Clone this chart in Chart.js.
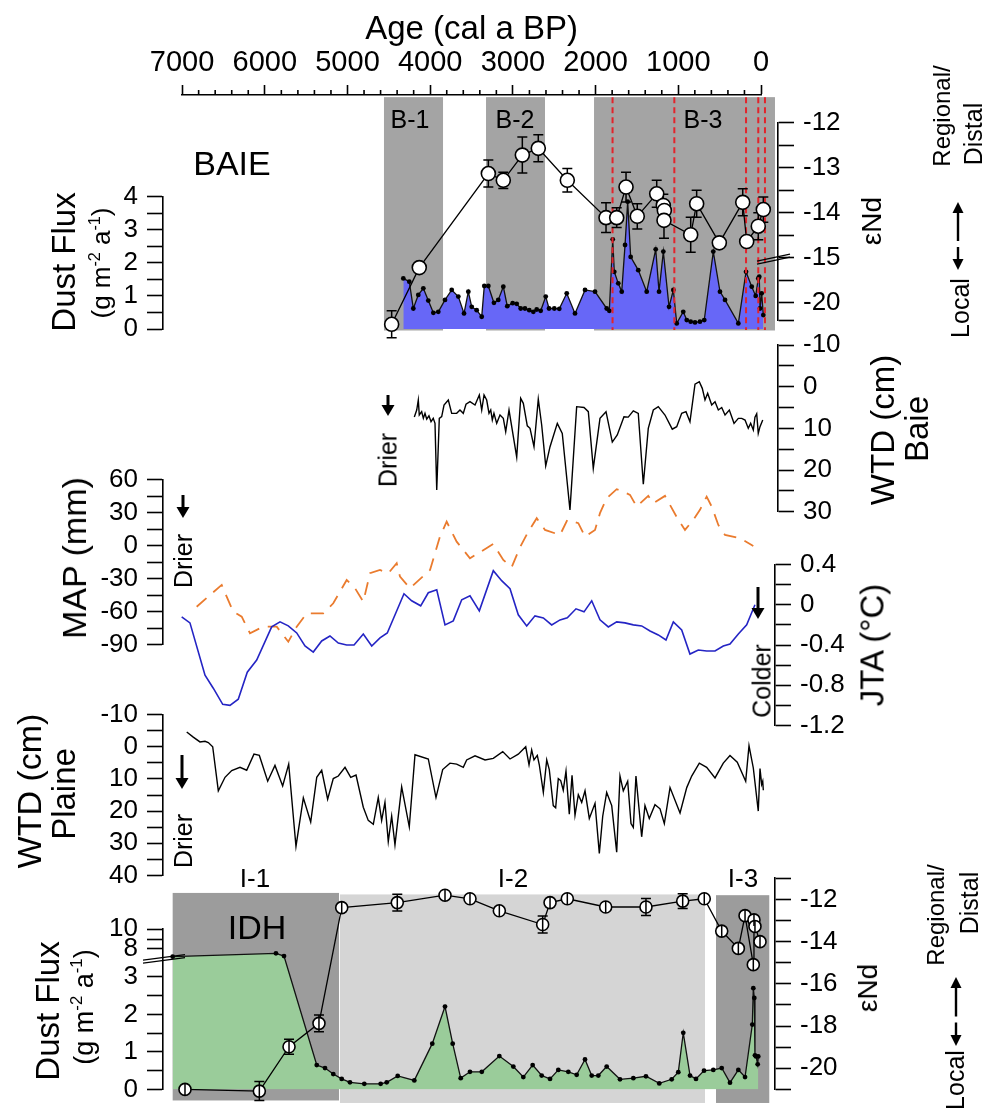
<!DOCTYPE html>
<html>
<head>
<meta charset="utf-8">
<title>BAIE / IDH dust, WTD and climate records</title>
<script src="https://cdn.jsdelivr.net/npm/chart.js@4.4.1/dist/chart.umd.min.js"></script>
<style>
  html, body { margin: 0; padding: 0; background: #fff; }
  #page { position: relative; width: 989px; height: 1114px; overflow: hidden; font-family: "Liberation Sans", Arial, Helvetica, sans-serif; color: #000; }
  #page canvas { position: absolute; left: 0; }
  #marks { position: absolute; left: 0; top: 0; }
  .lbl { position: absolute; white-space: nowrap; line-height: 1; transform: translate(-50%, -50%); }
  .lbl.rot { transform: translate(-50%, -50%) rotate(-90deg); }
  .lbl sup { font-size: 0.62em; vertical-align: 0.6em; line-height: 0; }
</style>
</head>
<body>
<div id="page"></div>
<script>
// ages are cal a BP everywhere

// --- BAIE dust flux (g m-2 a-1)
const baieDustAge = [4325, 4253, 4204, 4144, 4083, 4023, 3962, 3902, 3821, 3740, 3660, 3591, 3539, 3498, 3438, 3377, 3346, 3297, 3229, 3177, 3116, 3068, 3003, 2954, 2906, 2854, 2802, 2753, 2712, 2664, 2603, 2563, 2499, 2439, 2349, 2249, 2128, 2007, 1866, 1834, 1793, 1774, 1726, 1684, 1644, 1612, 1576, 1484, 1382, 1273, 1233, 1181, 1112, 1060, 1019, 940, 898, 850, 798, 738, 686, 577, 496, 435, 274, 181, 112, 64, 33, 21, 12, -8, -28];
const baieDustFlux = [1.53, 1.43, 0.62, 1.03, 1.23, 0.86, 0.49, 0.52, 0.88, 1.18, 0.98, 0.47, 1.13, 0.67, 0.57, 0.37, 1.30, 1.30, 0.79, 0.88, 1.28, 0.69, 0.78, 0.76, 0.62, 0.62, 0.57, 0.52, 0.59, 0.55, 0.98, 0.62, 0.62, 0.61, 1.08, 0.47, 1.18, 1.13, 0.62, 0.55, 2.71, 1.73, 1.38, 1.13, 2.54, 3.85, 2.18, 1.78, 1.13, 2.41, 1.13, 2.34, 0.67, 1.18, 0.17, 0.52, 0.27, 0.22, 0.20, 0.22, 0.27, 2.34, 1.13, 0.88, 0.17, 1.73, 1.28, 1.00, 1.53, 1.58, 0.62, 1.08, 0.42];

// --- BAIE eNd with 2 sigma
const baieNdAge = [4466, 4132, 3297, 3116, 2886, 2693, 2342, 1874, 1745, 1632, 1496, 1261, 1181, 1169, 1173, 850, 778, 504, 221, 173, 33, -28];
const baieNd = [-22.4, -16.1, -13.13, -13.28, -12.72, -12.57, -13.28, -14.11, -14.11, -13.43, -14.08, -13.58, -13.84, -13.95, -14.17, -14.49, -13.8, -14.67, -13.77, -14.64, -14.3, -13.93];
const baieNdErr = [1.5, 0, 0.3, 0.18, 0.4, 0.3, 0.26, 0.33, 0.22, 0.33, 0.28, 0.3, 0.25, 0.2, 0.4, 0.39, 0.3, 0, 0.3, 0, 0.3, 0.28];

// --- BAIE zones and red marker lines
const baieZoneName = ['B-1', 'B-2', 'B-3'];
const baieZoneOld = [4559, 3325, 2019];
const baieZoneYoung = [3845, 2612, -169];
const baieZoneLabelAge = [4244, 2975, 701];
const baieMarkerAge = [1795, 1048, 181, 33, -48];

// --- WTD Baie (cm)
const wtdBaieAge = [4192, 4163, 4144, 4132, 4103, 4083, 4063, 4042, 4015, 3990, 3963, 3942, 3921, 3890, 3861, 3833, 3781, 3740, 3680, 3640, 3600, 3567, 3519, 3458, 3406, 3377, 3349, 3317, 3289, 3268, 3249, 3229, 3196, 3156, 3116, 3087, 3047, 2954, 2906, 2874, 2826, 2793, 2745, 2693, 2652, 2603, 2551, 2463, 2403, 2310, 2229, 2140, 2088, 2028, 1947, 1874, 1798, 1738, 1657, 1605, 1544, 1484, 1423, 1363, 1302, 1242, 1161, 1073, 1019, 959, 907, 859, 798, 746, 710, 677, 645, 596, 556, 516, 475, 435, 383, 326, 274, 233, 193, 154, 125, 93, 73, 52, 33, 12, -21];
const wtdBaie = [7.3, 5.6, 3.2, 6.8, 6, 7.6, 6.4, 7.8, 7, 8.4, 7.6, 8.8, 24.8, 7.6, 7.2, 4.4, 3.2, 6.4, 6.4, 5.6, 6.4, 4.2, 3.6, 4.4, 2, 5.6, 2, 3.2, 6.4, 5.6, 8, 6.4, 8.8, 6.8, 7.6, 10.8, 5.6, 16.9, 2.8, 4, 9.4, 10, 14.4, 3, 9.2, 19, 14.4, 8.8, 11.2, 29.6, 4.8, 5, 6, 19.6, 7.6, 6, 13.3, 11.6, 7.2, 7.3, 5.8, 6.4, 23.4, 10, 5.6, 4.8, 6.8, 10.2, 9.6, 6.4, 6, 8.4, -0.6, -1.2, 0.4, 3.2, 1.6, 4.4, 3.6, 5.6, 5, 6.8, 5.6, 8.8, 7.6, 7.6, 8, 10, 8.8, 10.4, 7.3, 6.5, 11.2, 9.6, 8];

// --- MAP anomaly (mm)
const mapAge = [6824, 6521, 6461, 6381, 6279, 6179, 6018, 5856, 5716, 5614, 5493, 5293, 5172, 5010, 4909, 4809, 4728, 4607, 4507, 4405, 4365, 4244, 4002, 3882, 3801, 3680, 3519, 3237, 3116, 3015, 2914, 2814, 2712, 2612, 2430, 2342, 2209, 2128, 2007, 1947, 1866, 1745, 1665, 1584, 1503, 1363, 1302, 1161, 1100, 1000, 919, 819, 738, 657, 596, 516, 435, 254, 93];
const mapVal = [-55.5, -35.7, -46.4, -60, -64.5, -79.6, -73.6, -73.6, -87.3, -73.6, -61.5, -61.5, -52.4, -31.2, -38.7, -50.9, -25.1, -22.1, -25.1, -16, -28.2, -38.7, -22.1, 8.2, 21.8, 3.6, -11.5, 1.5, -13, -19.6, -1.5, 12.7, 24.9, 14.3, 9.7, 23.4, 20.4, 8.2, 14.3, 29.5, 43.1, 51.3, 49.1, 46.1, 35.5, 45.2, 38.5, 45.2, 37, 23.4, 14.3, 23.4, 32.5, 44.5, 35.5, 18.8, 9.7, 6.7, -0.3];

// --- JTA anomaly (degC)
const jtaAge = [7005, 6905, 6723, 6623, 6509, 6421, 6321, 6212, 6098, 5917, 5816, 5716, 5614, 5514, 5414, 5312, 5212, 5111, 5010, 4921, 4809, 4707, 4607, 4519, 4317, 4224, 4115, 4023, 3921, 3821, 3721, 3619, 3519, 3406, 3237, 3136, 3035, 2935, 2833, 2733, 2632, 2531, 2430, 2342, 2237, 2140, 2047, 1947, 1846, 1745, 1645, 1544, 1443, 1342, 1242, 1149, 1060, 959, 859, 758, 657, 556, 456, 375, 274, 173, 73];
const jtaVal = [-0.12, -0.18, -0.70, -0.83, -0.99, -1.00, -0.94, -0.67, -0.55, -0.22, -0.17, -0.21, -0.28, -0.41, -0.47, -0.36, -0.31, -0.38, -0.40, -0.40, -0.29, -0.41, -0.33, -0.28, 0.11, 0.04, -0.01, 0.12, 0.15, -0.20, -0.16, 0.05, 0.09, -0.06, 0.34, 0.24, 0.16, -0.10, -0.21, -0.11, -0.13, -0.20, -0.15, -0.13, -0.04, -0.07, 0.04, -0.15, -0.22, -0.17, -0.18, -0.20, -0.21, -0.26, -0.30, -0.35, -0.17, -0.25, -0.49, -0.45, -0.46, -0.46, -0.41, -0.39, -0.29, -0.20, 0.00];

// --- WTD Plaine (cm)
const wtdPlaineAge = [6944, 6865, 6784, 6723, 6683, 6630, 6562, 6481, 6400, 6300, 6219, 6131, 6066, 5965, 5877, 5784, 5711, 5623, 5534, 5445, 5372, 5312, 5240, 5172, 5111, 5030, 4961, 4897, 4809, 4749, 4688, 4628, 4587, 4547, 4507, 4466, 4426, 4345, 4253, 4184, 4023, 3930, 3849, 3761, 3680, 3600, 3559, 3458, 3337, 3237, 3123, 3035, 2935, 2845, 2805, 2773, 2745, 2705, 2681, 2632, 2591, 2560, 2512, 2483, 2451, 2422, 2391, 2358, 2318, 2285, 2249, 2209, 2168, 2128, 2076, 2007, 1955, 1914, 1866, 1805, 1745, 1705, 1665, 1612, 1572, 1544, 1512, 1443, 1403, 1351, 1282, 1221, 1169, 1100, 979, 898, 838, 746, 657, 556, 456, 375, 287, 185, 145, 93, 33, 12, -8, -21, -28];
const wtdPlaine = [-4.6, -3, -1.5, -1.7, -1.3, 0, 13.7, 9.5, 7.4, 6.4, 7.3, 2.3, 2.7, 10.7, 5.8, 12.2, 5.4, 31, 15.9, 23.4, 9.5, 7.3, 16.3, 9.9, 9.1, 6.4, 9.5, 8.8, 18.8, 22.9, 24.1, 15.8, 22.9, 17.3, 29.5, 21.6, 30.5, 12.5, 24.9, 2.5, 3.8, 15.8, 7.1, 5.1, 5.4, 6.4, 4.1, 2.8, 4.1, 3.6, 1.5, 3.8, 2.3, 0, 5.6, 1, 4.1, 2.7, 5.6, 14.2, 4.1, 7.1, 18.3, 19, 9.9, 10.5, 13.5, 7.6, 21, 8.9, 21.3, 14.9, 17.3, 13.7, 22.3, 17.6, 33.2, 21.6, 14.2, 18.3, 32.8, 9.1, 13.7, 10.7, 23.9, 25.1, 9.1, 28, 18.3, 22.3, 18, 19.3, 23.9, 12.7, 20.6, 12.7, 9.1, 5.1, 6.4, 9.7, 5.1, 2.7, 4.8, 10.7, -0.3, 6.6, 20, 6.8, 11.7, 10.7, 13.5];

// --- IDH dust flux (g m-2 a-1)
const idhDustAge = [7114, 5865, 5768, 5372, 5272, 5172, 5070, 4970, 4797, 4599, 4526, 4393, 4192, 3975, 3821, 3728, 3631, 3519, 3376, 3164, 2995, 2874, 2761, 2652, 2551, 2451, 2330, 2229, 2128, 2047, 1967, 1866, 1705, 1544, 1391, 1230, 1080, 1000, 940, 858, 786, 689, 577, 475, 375, 274, 193, 105, 93, 81, 73, 60, 40, 33];
const idhDustFlux = [6.6, 7.2, 6.7, 0.65, 0.57, 0.41, 0.28, 0.19, 0.15, 0.15, 0.19, 0.36, 0.24, 1.22, 2.21, 1.22, 0.30, 0.47, 0.47, 0.89, 0.61, 0.33, 0.65, 0.37, 0.28, 0.52, 0.47, 0.39, 0.80, 0.37, 0.37, 0.61, 0.27, 0.30, 0.35, 0.16, 0.27, 0.46, 1.51, 0.37, 0.28, 0.50, 0.52, 0.57, 0.18, 0.52, 0.33, 1.73, 2.70, 2.44, 0.91, 0.88, 0.67, 0.88];

// --- IDH eNd with 2 sigma
const idhNdAge = [6965, 6066, 5707, 5345, 5070, 4398, 3821, 3519, 3164, 2640, 2551, 2342, 1878, 1391, 947, 686, 475, 274, 193, 93, 85, 73, 12];
const idhNd = [-21.0, -21.08, -18.98, -17.87, -12.39, -12.15, -11.8, -11.97, -12.54, -13.19, -12.15, -11.97, -12.36, -12.36, -12.08, -11.97, -13.5, -14.32, -12.77, -15.09, -12.97, -13.28, -14.0];
const idhNdErr = [0, 0.45, 0.35, 0.4, 0, 0.4, 0.2, 0, 0, 0.4, 0, 0, 0, 0.4, 0.35, 0, 0, 0, 0, 0, 0, 0, 0];

// --- IDH zones
const idhZoneName = ['I-1', 'I-2', 'I-3'];
const idhZoneOld = [7114, 5091, 544];
const idhZoneYoung = [5103, 677, -100];
const idhZoneLabelAge = [6119, 2999, 218];

// --- axis ticks
const ageTicks = [0, 1000, 2000, 3000, 4000, 5000, 6000, 7000];
const baieFluxTicks = [0, 0.5, 1, 1.5, 2, 2.5, 3, 3.5, 4];
const baieFluxTickLabels = ['0', '', '1', '', '2', '', '3', '', '4'];
const baieNdTicks = [-12, -12.5, -13, -13.5, -14, -14.5, -15, -17.5, -20, -22];
const baieNdTickLabels = ['-12', '', '-13', '', '-14', '', '-15', '', '-20', ''];
const wtdBaieTicks = [-10, -5, 0, 5, 10, 15, 20, 25, 30];
const wtdBaieTickLabels = ['-10', '', '0', '', '10', '', '20', '', '30'];
const mapTicks = [60, 45, 30, 15, 0, -15, -30, -45, -60, -75, -90];
const mapTickLabels = ['60', '', '30', '', '0', '', '-30', '', '-60', '', '-90'];
const jtaTicks = [0.4, 0.2, 0, -0.2, -0.4, -0.6, -0.8, -1.0, -1.2];
const jtaTickLabels = ['0.4', '', '0', '', '-0.4', '', '-0.8', '', '-1.2'];
const wtdPlaineTicks = [-10, -5, 0, 5, 10, 15, 20, 25, 30, 35, 40];
const wtdPlaineTickLabels = ['-10', '', '0', '', '10', '', '20', '', '30', '', '40'];
const idhFluxTicks = [0, 0.5, 1, 1.5, 2, 2.5, 3, 8, 9, 10];
const idhFluxTickLabels = ['0', '', '1', '', '2', '', '3', '8', '', '10'];
const idhNdTicks = [-11, -12, -13, -14, -15, -16, -17, -18, -19, -20, -21];
const idhNdTickLabels = ['', '-12', '', '-14', '', '-16', '', '-18', '', '-20', ''];

// broken axes: eNd below -15 squeezed 5x; flux 3..8 and 8..10 squeezed
const baieNdScale = v => (v >= -15 ? v : -15 + (v + 15) / 5);
const idhFluxScale = v => (v <= 3 ? v : v <= 8 ? 3 + (v - 3) * 0.15 : 3.75 + (v - 8) * 0.26);
const same = v => v;

// ---------------------------------------------------------------
const FONT = '"Liberation Sans", Arial, Helvetica, sans-serif';
Chart.defaults.font.family = FONT;
Chart.defaults.color = '#000';

const page = document.getElementById('page');
const PAGE_W = 989;
const AGE0_PX = 761;          // 0 cal a BP on the page
const PX_PER_YEAR = 0.0827;
const LEFT_AXIS_PX = 163;     // detached left axes
const ageAtPx = px => (AGE0_PX - px) / PX_PER_YEAR;
const pts = (ages, vals, tf = same) => ages.map((a, i) => ({ x: a, y: tf(vals[i]) }));

function addCanvas(top, height) {
  const cv = document.createElement('canvas');
  cv.width = PAGE_W;
  cv.height = height;
  cv.style.top = top + 'px';
  page.appendChild(cv);
  return cv;
}

// one y axis per chart, all charts share the same age mapping
function panel(o) {
  const tf = o.tf || same;
  const right = o.right || 778;
  const order = o.ticks.map((v, i) => i).sort((a, b) => tf(o.ticks[a]) - tf(o.ticks[b]));
  const tickPos = order.map(i => tf(o.ticks[i]));
  const tickText = order.map(i => o.labels[i]);
  return new Chart(addCanvas(o.top, o.height), {
    type: 'line',
    data: { datasets: o.datasets },
    plugins: o.plugins || [],
    options: {
      responsive: false,
      animation: false,
      events: [],
      layout: {
        padding: {
          left: o.side === 'left' ? 0 : LEFT_AXIS_PX,
          right: o.side === 'right' ? 0 : PAGE_W - right,
          top: o.areaTop - o.top,
          bottom: o.top + o.height - o.areaBottom
        }
      },
      plugins: { legend: { display: false }, tooltip: { enabled: false } },
      scales: {
        x: { type: 'linear', display: false, reverse: true, min: ageAtPx(right), max: ageAtPx(LEFT_AXIS_PX) },
        y: {
          type: 'linear',
          position: o.side,
          reverse: !!o.reverse,
          min: tf(o.min),
          max: tf(o.max),
          border: { color: '#000', width: 1.6 },
          grid: { drawOnChartArea: false, tickLength: 16, tickWidth: 1.6, tickColor: '#000' },
          ticks: { autoSkip: false, padding: 9, color: '#000', font: { size: 26 }, callback: (v, i) => tickText[i] },
          afterBuildTicks: s => { s.ticks = tickPos.map(v => ({ value: v })); },
          afterFit: s => { s.width = o.side === 'left' ? LEFT_AXIS_PX : PAGE_W - right; }
        }
      }
    }
  });
}

function zones(names, older, younger, labelAge, g) {
  return {
    id: 'zones',
    beforeDatasetsDraw(chart) {
      const { ctx, scales: { x, y } } = chart;
      ctx.save();
      names.forEach((n, i) => {
        const x1 = x.getPixelForValue(older[i]), x2 = x.getPixelForValue(younger[i]);
        const y1 = y.getPixelForValue(g.top[i]), y2 = y.getPixelForValue(g.bottom[i]);
        ctx.fillStyle = g.colors[i];
        ctx.fillRect(x1, y1, x2 - x1, y2 - y1);
      });
      ctx.fillStyle = '#000';
      ctx.font = `${g.fontSize}px ${FONT}`;
      ctx.textAlign = 'center';
      ctx.textBaseline = 'middle';
      names.forEach((n, i) => ctx.fillText(n, x.getPixelForValue(labelAge[i]), y.getPixelForValue(g.labelY)));
      ctx.restore();
    }
  };
}

function markerLines(ages, top, bottom) {
  return {
    id: 'markers',
    afterDatasetsDraw(chart) {
      const { ctx, scales: { x, y } } = chart;
      ctx.save();
      ctx.strokeStyle = '#E3242B';
      ctx.lineWidth = 2;
      ctx.setLineDash([6, 4]);
      ages.forEach(a => {
        const px = x.getPixelForValue(a);
        ctx.beginPath();
        ctx.moveTo(px, y.getPixelForValue(top));
        ctx.lineTo(px, y.getPixelForValue(bottom));
        ctx.stroke();
      });
      ctx.restore();
    }
  };
}

function errorBars(ages, vals, errs, tf, r, through) {
  const draw = chart => {
    const { ctx, scales: { x, y } } = chart;
    ctx.save();
    ctx.strokeStyle = '#000';
    ctx.lineWidth = 1.5;
    ages.forEach((a, i) => {
      const px = x.getPixelForValue(a);
      const py = y.getPixelForValue(tf(vals[i]));
      let yt = y.getPixelForValue(tf(vals[i] + errs[i]));
      let yb = y.getPixelForValue(tf(vals[i] - errs[i]));
      const capT = py - yt > r + 1, capB = yb - py > r + 1;
      if (through) { yt = Math.min(yt, py - r); yb = Math.max(yb, py + r); }
      if (yb - yt < 1) return;
      ctx.beginPath();
      ctx.moveTo(px, yt); ctx.lineTo(px, yb);
      if (capT) { ctx.moveTo(px - 5, yt); ctx.lineTo(px + 5, yt); }
      if (capB) { ctx.moveTo(px - 5, yb); ctx.lineTo(px + 5, yb); }
      ctx.stroke();
    });
    ctx.restore();
  };
  return through ? { id: 'errors', afterDatasetsDraw: draw } : { id: 'errors', beforeDatasetsDraw: draw };
}

// little "//" where an axis is broken
function axisBreak(side, at, dxIn, dxOut, rise) {
  return {
    id: 'axisBreak',
    afterDraw(chart) {
      const { ctx, chartArea, scales: { y } } = chart;
      const ax = side === 'left' ? chartArea.left : chartArea.right;
      const y0 = y.getPixelForValue(at);
      const xl = side === 'left' ? ax - dxOut : ax - dxIn;
      const xr = side === 'left' ? ax + dxIn : ax + dxOut;
      ctx.save();
      ctx.strokeStyle = '#000';
      ctx.lineWidth = 1.3;
      [0, -3].forEach(d => {
        ctx.beginPath();
        ctx.moveTo(xl, y0 + rise[0] + d);
        ctx.lineTo(xr, y0 + rise[1] + d);
        ctx.stroke();
      });
      ctx.restore();
    }
  };
}

const dustStyle = (fillColor) => ({
  fill: 'origin', backgroundColor: fillColor, borderColor: '#111', borderWidth: 1.3,
  pointRadius: 2.4, pointBackgroundColor: '#000', pointBorderWidth: 0, clip: false
});
const ndStyle = (r) => ({
  fill: false, borderColor: '#000', borderWidth: 1.3, pointRadius: r,
  pointBackgroundColor: '#fff', pointBorderColor: '#000', pointBorderWidth: 1.6, clip: false
});
const plainLine = (color, width, dash) => ({
  fill: false, borderColor: color, borderWidth: width, borderDash: dash || [], pointRadius: 0, clip: false
});

// ---- top age axis
const ageMinor = [];
for (let a = 0; a <= 7000; a += 200) if (!ageTicks.includes(a)) ageMinor.push(a);
new Chart(addCanvas(0, 100), {
  type: 'line',
  data: { datasets: [] },
  plugins: [{
    id: 'minorTicks',
    afterDraw(chart) {
      const s = chart.scales.x, ctx = chart.ctx;
      ctx.save();
      ctx.strokeStyle = '#000';
      ctx.lineWidth = 1.6;
      ctx.beginPath();
      ageMinor.forEach(a => {
        const px = s.getPixelForValue(a);
        ctx.moveTo(px, s.bottom);
        ctx.lineTo(px, s.bottom - 5);
      });
      ctx.stroke();
      ctx.restore();
    }
  }],
  options: {
    responsive: false, animation: false, events: [],
    layout: { padding: { left: AGE0_PX - 7000 * PX_PER_YEAR, right: PAGE_W - AGE0_PX, top: 0, bottom: 0 } },
    plugins: { legend: { display: false }, tooltip: { enabled: false } },
    scales: {
      x: {
        type: 'linear', position: 'top', reverse: true, min: 0, max: 7000,
        border: { color: '#000', width: 1.6 },
        grid: { drawOnChartArea: false, tickLength: 10, tickWidth: 1.6, tickColor: '#000' },
        ticks: { autoSkip: false, maxRotation: 0, padding: 5, color: '#000', font: { size: 29 }, callback: v => String(v) },
        afterBuildTicks: s => { s.ticks = ageTicks.map(v => ({ value: v })); },
        title: { display: true, text: 'Age (cal a BP)', color: '#000', font: { size: 33 }, padding: { top: 10, bottom: 0 } },
        afterFit: s => { s.height = 95; }
      },
      y: { display: false, min: 0, max: 1 }
    }
  }
});

// ---- BAIE dust flux
panel({
  top: 85, height: 270, areaTop: 196.7, areaBottom: 329, side: 'left',
  min: 0, max: 4, ticks: baieFluxTicks, labels: baieFluxTickLabels,
  datasets: [{ data: pts(baieDustAge, baieDustFlux), ...dustStyle('#6767F7') }],
  plugins: [
    zones(baieZoneName, baieZoneOld, baieZoneYoung, baieZoneLabelAge,
      { top: [7.01, 7.01, 7.01], bottom: [-0.045, -0.045, -0.045], labelY: 6.3, colors: ['#A4A4A4', '#A4A4A4', '#A4A4A4'], fontSize: 25 }),
    markerLines(baieMarkerAge, 7.01, -0.03)
  ]
});

// ---- BAIE eNd
panel({
  top: 90, height: 265, areaTop: 122.7, areaBottom: 320.7, side: 'right', right: 778,
  min: -22, max: -12, tf: baieNdScale, ticks: baieNdTicks, labels: baieNdTickLabels,
  datasets: [{ data: pts(baieNdAge, baieNd, baieNdScale), ...ndStyle(7) }],
  plugins: [
    errorBars(baieNdAge, baieNd, baieNdErr, baieNdScale, 7, false),
    axisBreak('right', -15, 21, 12, [6.5, -0.5])
  ]
});

// ---- WTD Baie
panel({
  top: 320, height: 220, areaTop: 345, areaBottom: 511.7, side: 'right', right: 778,
  min: -10, max: 30, reverse: true, ticks: wtdBaieTicks, labels: wtdBaieTickLabels,
  datasets: [{ data: pts(wtdBaieAge, wtdBaie), ...plainLine('#000', 1.4) }]
});

// ---- MAP
panel({
  top: 455, height: 215, areaTop: 479.3, areaBottom: 644.7, side: 'left',
  min: -90, max: 60, ticks: mapTicks, labels: mapTickLabels,
  datasets: [{ data: pts(mapAge, mapVal), ...plainLine('#EA7B2E', 1.8, [13, 9]) }]
});

// ---- JTA
panel({
  top: 540, height: 210, areaTop: 563.3, areaBottom: 726.3, side: 'right', right: 775,
  min: -1.2, max: 0.4, ticks: jtaTicks, labels: jtaTickLabels,
  datasets: [{ data: pts(jtaAge, jtaVal), ...plainLine('#2424C4', 1.6) }]
});

// ---- WTD Plaine
panel({
  top: 690, height: 210, areaTop: 712.7, areaBottom: 876.7, side: 'left',
  min: -10, max: 40, reverse: true, ticks: wtdPlaineTicks, labels: wtdPlaineTickLabels,
  datasets: [{ data: pts(wtdPlaineAge, wtdPlaine), ...plainLine('#000', 1.4) }]
});

// ---- IDH dust flux
panel({
  top: 860, height: 254, areaTop: 929.3, areaBottom: 1094.3, side: 'left',
  min: 0, max: 10, tf: idhFluxScale, ticks: idhFluxTicks, labels: idhFluxTickLabels,
  datasets: [{ data: pts(idhDustAge, idhDustFlux, idhFluxScale), ...dustStyle('#9ACC9A') }],
  plugins: [
    // zone extents given in plotted (squeezed) units
    zones(idhZoneName, idhZoneOld, idhZoneYoung, idhZoneLabelAge,
      { top: [5.24, 5.2, 5.18], bottom: [-0.295, -0.362, -0.362], labelY: 5.6, colors: ['#9C9C9C', '#D5D5D5', '#9C9C9C'], fontSize: 26 }),
    axisBreak('left', 3.476, 22, 20, [4, -1.5])
  ]
});

// ---- IDH eNd
panel({
  top: 850, height: 264, areaTop: 878.3, areaBottom: 1094.2, side: 'right', right: 775,
  min: -21, max: -11, ticks: idhNdTicks, labels: idhNdTickLabels,
  datasets: [{ data: pts(idhNdAge, idhNd), ...ndStyle(6) }],
  plugins: [errorBars(idhNdAge, idhNd, idhNdErr, same, 6, true)]
});

// ---- free text
const notes = [
  { html: 'BAIE', x: 232, y: 163, size: 34 },
  { html: 'Dust Flux', x: 63, y: 262, size: 33, rot: true },
  { html: '(g m<sup>-2</sup> a<sup>-1</sup>)', x: 101, y: 263, size: 26, rot: true },
  { html: '\u03b5Nd', x: 872, y: 221, size: 28, rot: true },
  { html: 'Regional/', x: 942, y: 116, size: 24, rot: true },
  { html: 'Distal', x: 973, y: 134, size: 25, rot: true },
  { html: 'Local', x: 960, y: 308, size: 25, rot: true },
  { html: 'Drier', x: 388, y: 460, size: 25, rot: true },
  { html: 'WTD (cm)', x: 882, y: 430, size: 33, rot: true },
  { html: 'Baie', x: 916, y: 429, size: 33, rot: true },
  { html: 'MAP (mm)', x: 74, y: 558, size: 34, rot: true },
  { html: 'Drier', x: 183, y: 561, size: 25, rot: true },
  { html: 'JTA (\u00b0C)', x: 872, y: 645, size: 33, rot: true },
  { html: 'Colder', x: 762, y: 681, size: 25, rot: true },
  { html: 'WTD (cm)', x: 29, y: 791, size: 34, rot: true },
  { html: 'Plaine', x: 63, y: 794, size: 33, rot: true },
  { html: 'Drier', x: 183, y: 841, size: 25, rot: true },
  { html: 'IDH', x: 257, y: 927, size: 34 },
  { html: 'Dust Flux', x: 47, y: 1011, size: 33, rot: true },
  { html: '(g m<sup>-2</sup> a<sup>-1</sup>)', x: 84, y: 1007, size: 27, rot: true },
  { html: '\u03b5Nd', x: 868, y: 988, size: 28, rot: true },
  { html: 'Regional/', x: 936, y: 915, size: 24, rot: true },
  { html: 'Distal', x: 969, y: 903, size: 25, rot: true },
  { html: 'Local', x: 955, y: 1080, size: 25, rot: true }
];
notes.forEach(n => {
  const d = document.createElement('div');
  d.className = 'lbl' + (n.rot ? ' rot' : '');
  d.style.left = n.x + 'px';
  d.style.top = n.y + 'px';
  d.style.fontSize = n.size + 'px';
  d.innerHTML = n.html;
  page.appendChild(d);
});

// ---- arrows
const downArrows = [
  { x: 388, y1: 395, y2: 416 },
  { x: 183, y1: 495, y2: 518 },
  { x: 182, y1: 755, y2: 789 },
  { x: 758, y1: 587, y2: 619 }
];
const twoWayArrows = [
  { x: 958, y1: 202, y2: 270 },
  { x: 956, y1: 977, y2: 1046 }
];
const NS = 'http://www.w3.org/2000/svg';
const svg = document.createElementNS(NS, 'svg');
svg.setAttribute('id', 'marks');
svg.setAttribute('width', PAGE_W);
svg.setAttribute('height', 1114);
function svgEl(tag, attrs) {
  const e = document.createElementNS(NS, tag);
  Object.entries(attrs).forEach(([k, v]) => e.setAttribute(k, v));
  svg.appendChild(e);
}
downArrows.forEach(a => {
  svgEl('line', { x1: a.x, y1: a.y1, x2: a.x, y2: a.y2 - 9, stroke: '#000', 'stroke-width': 3 });
  svgEl('polygon', { points: `${a.x - 6.5},${a.y2 - 11} ${a.x + 6.5},${a.y2 - 11} ${a.x},${a.y2}`, fill: '#000' });
});
twoWayArrows.forEach(a => {
  const mid = (a.y1 + a.y2) / 2 + 8;
  svgEl('line', { x1: a.x, y1: a.y1 + 8, x2: a.x, y2: mid - 3, stroke: '#000', 'stroke-width': 2.4 });
  svgEl('line', { x1: a.x, y1: mid + 3, x2: a.x, y2: a.y2 - 8, stroke: '#000', 'stroke-width': 2.4 });
  svgEl('polygon', { points: `${a.x - 5.5},${a.y1 + 11} ${a.x + 5.5},${a.y1 + 11} ${a.x},${a.y1}`, fill: '#000' });
  svgEl('polygon', { points: `${a.x - 5.5},${a.y2 - 11} ${a.x + 5.5},${a.y2 - 11} ${a.x},${a.y2}`, fill: '#000' });
});
page.appendChild(svg);
</script>
</body>
</html>
